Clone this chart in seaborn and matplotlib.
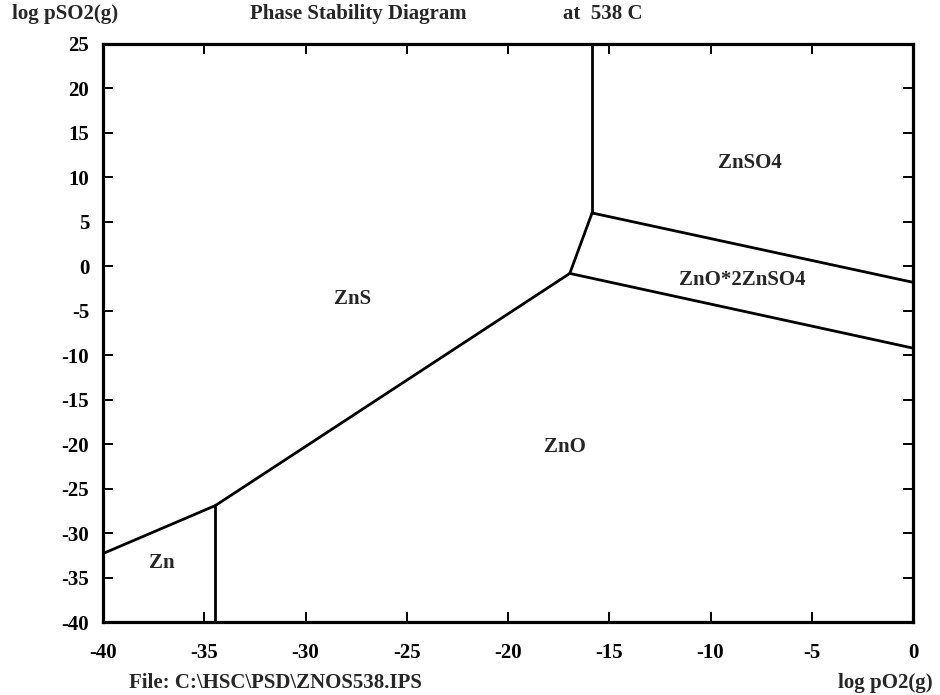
import matplotlib
matplotlib.use("Agg")
import matplotlib.pyplot as plt
import seaborn as sns
import pandas as pd

# Phase boundaries (log pO2, log pSO2) of the Zn-S-O system at 538 C
zn_zns_x = [-40.0, -34.45]
zn_zns_y = [-32.3, -26.9]
zn_zno_x = [-34.45, -34.45]
zn_zno_y = [-26.9, -40.0]
zns_zno_x = [-34.45, -16.95]
zns_zno_y = [-26.9, -0.8]
zns_zos_x = [-16.95, -15.85]
zns_zos_y = [-0.8, 6.0]
zns_znso4_x = [-15.85, -15.85]
zns_znso4_y = [6.0, 25.0]
znso4_zos_x = [-15.85, 0.0]
znso4_zos_y = [6.0, -1.8]
zno_zos_x = [-16.95, 0.0]
zno_zos_y = [-0.8, -9.2]

# Stability-field labels
phase_names = ["ZnSO4", "ZnO*2ZnSO4", "ZnS", "ZnO", "Zn"]
phase_x = [-8.05, -8.45, -27.7, -17.2, -37.1]
phase_y = [11.6, -1.5, -3.7, -20.3, -33.4]

x_ticks = [-40, -35, -30, -25, -20, -15, -10, -5, 0]
y_ticks = [25, 20, 15, 10, 5, 0, -5, -10, -15, -20, -25, -30, -35, -40]

sns.set_style("ticks")
plt.rcParams["font.family"] = ["Liberation Serif", "DejaVu Serif"]
plt.rcParams["font.weight"] = "bold"

fig = plt.figure(figsize=(9.4, 6.95), dpi=100)
ax = fig.add_axes([0.1096, 0.105, 0.8617, 0.8317])

segments = [
    (zn_zns_x, zn_zns_y), (zn_zno_x, zn_zno_y), (zns_zno_x, zns_zno_y),
    (zns_zos_x, zns_zos_y), (zns_znso4_x, zns_znso4_y),
    (znso4_zos_x, znso4_zos_y), (zno_zos_x, zno_zos_y),
]
rows = []
for i, (xs, ys) in enumerate(segments):
    for x, y in zip(xs, ys):
        rows.append({"seg": i, "log_pO2": x, "log_pSO2": y})
df = pd.DataFrame(rows)
sns.lineplot(data=df, x="log_pO2", y="log_pSO2", units="seg", estimator=None,
             sort=False, color="black", linewidth=2.0, ax=ax, legend=False)

for name, x, y in zip(phase_names, phase_x, phase_y):
    ax.text(x, y, name, ha="center", va="center", fontsize=15, fontweight="bold")

ax.set_xlim(-40, 0)
ax.set_ylim(-40, 25)
ax.set_xticks(x_ticks)
ax.set_yticks(y_ticks)
ax.set_xticklabels([str(v) for v in x_ticks])
ax.set_yticklabels([str(v) for v in y_ticks])
ax.set_xlabel("")
ax.set_ylabel("")
ax.tick_params(direction="in", length=7, width=1.4, top=True, right=True,
               labelsize=15, colors="black")
ax.tick_params(axis="x", pad=15)
ax.tick_params(axis="y", pad=10)
for s in ax.spines.values():
    s.set_visible(True)
    s.set_linewidth(2.3)
    s.set_color("black")
for lab in ax.get_xticklabels() + ax.get_yticklabels():
    lab.set_fontweight("bold")

fig.text(65 / 940, 1 - 14 / 695, "log pSO2(g)", ha="center", va="center",
         fontsize=15, fontweight="bold")
fig.text(358 / 940, 1 - 14 / 695, "Phase Stability Diagram", ha="center",
         va="center", fontsize=15, fontweight="bold")
fig.text(603 / 940, 1 - 14 / 695, "at  538 C", ha="center", va="center",
         fontsize=15, fontweight="bold")
fig.text(275 / 940, 1 - 683 / 695, "File: C:\\HSC\\PSD\\ZNOS538.IPS",
         ha="center", va="center", fontsize=15, fontweight="bold")
fig.text(885 / 940, 1 - 683 / 695, "log pO2(g)", ha="center", va="center",
         fontsize=15, fontweight="bold")

fig.savefig("out.png", dpi=100)
